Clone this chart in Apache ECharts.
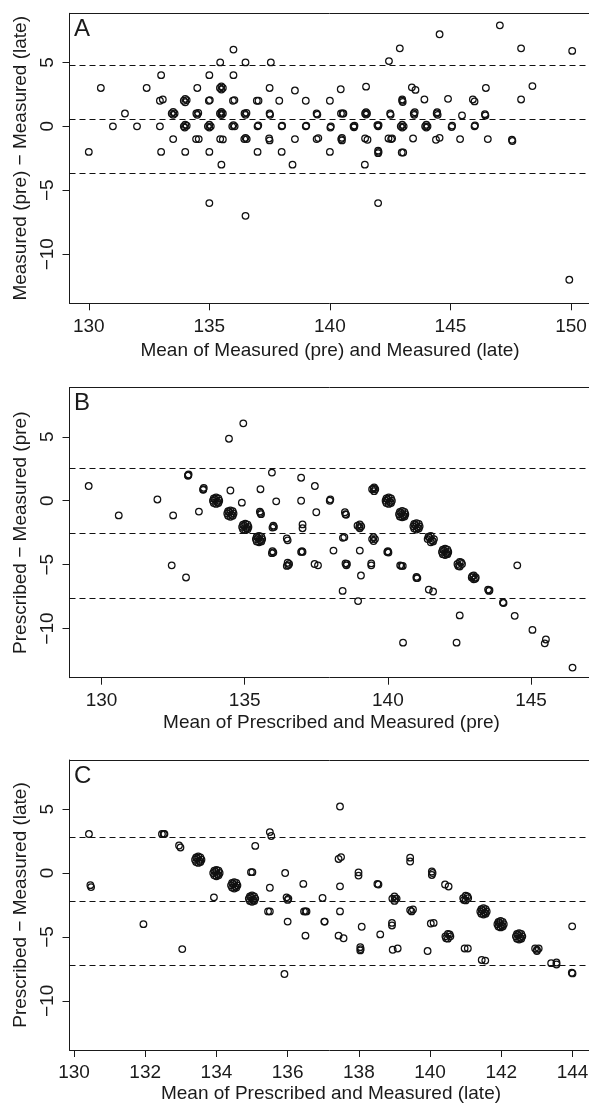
<!DOCTYPE html>
<html>
<head>
<meta charset="utf-8">
<script src="https://cdn.jsdelivr.net/npm/echarts@6/dist/echarts.min.js"></script>
<style>
html, body { margin: 0; padding: 0; background: #fff; overflow: hidden; }
#chart { width: 589px; height: 1105px; }
</style>
</head>
<body>
<div id="chart"></div>
<script>
// Panel A: mean of measured (pre) and measured (late) vs difference
var pointsA = [
  [130,-2],[130.5,3],[131,0],[131.5,1],[132,0],[132.4,3],[133,4],
  [132.95,2],[133.07,2.1],[132.95,0],[133,-2],[133.5,-1],[134,-2],
  [133.44,1],[133.56,1],[133.5,1.12],[133.5,0.9],
  [133.94,2],[134.06,2.05],[134,2.15],[134,1.88],
  [133.94,0],[134.06,0.05],[134,0.13],[133.98,-0.1],
  [134.46,1],[134.54,1.05],[134.5,0.9],
  [134.5,3],[134.45,-1],[134.56,-1],
  [135,4],[134.98,2],[135.02,2.05],
  [134.94,0],[135.06,0],[135,0.12],[135,-0.1],
  [135,-2],[135,-6],[135.45,5],
  [135.44,3],[135.56,3],[135.5,3.13],[135.5,2.88],
  [135.44,1],[135.56,1],[135.5,1.13],[135.5,0.88],[135.5,1],
  [135.45,-1],[135.56,-1.02],
  [135.5,-3],[136,6],[136,4],
  [135.98,2],[136.04,2.05],
  [135.95,0],[136.05,0],[136,0.1],
  [136.5,5],
  [136.46,1],[136.54,1.05],[136.5,0.9],
  [136.45,-1],[136.55,-1],[136.5,-0.9],
  [136.5,-7],
  [136.97,2],[137.04,2],
  [137,0],[137.03,0.08],
  [137,-2],[137.5,3],[137.55,5],
  [137.5,1],[137.52,0.9],
  [137.48,-0.95],[137.5,-1.1],
  [137.9,2],[138,0],[138.02,0.05],
  [138,-2],[138.45,-3],[138.55,2.8],[138.55,-1],[139,2],
  [139,0],[139.02,0.06],
  [139.45,1],[139.48,0.92],
  [139.45,-1],[139.52,-0.92],
  [140,2],[140.02,-0.1],[140.04,0],
  [140,-2],[140.45,2.9],
  [140.46,1],[140.53,1],[140.56,1],
  [140.47,-1],[140.5,-0.9],[140.5,-1.1],
  [140.98,0],[141.02,0.05],[141,-0.08],
  [141.45,-3],[141.5,3.1],
  [141.46,1],[141.54,1],[141.5,1.1],[141.5,0.92],
  [141.46,-0.95],[141.56,-1.05],
  [141.97,0.1],[142,0],[142.02,0.1],
  [142,-1.9],[142,-2.1],[142.02,-2],
  [142,-6],[142.45,5.1],
  [142.5,1],[142.52,0.9],
  [142.43,-0.95],[142.54,-1],[142.58,-0.95],
  [142.9,6.1],
  [143,2],[143,2.1],[143.02,1.9],
  [142.94,0],[143.06,0],[143,0.12],[143,-0.1],
  [142.98,-2.05],[143.04,-2.05],
  [143.4,3.05],[143.55,2.85],[143.45,-0.95],
  [143.48,1],[143.52,1.1],[143.5,0.9],
  [143.92,2.1],
  [143.95,0],[144.05,0],[144,0.12],[144,-0.1],
  [144.43,1],[144.45,1.1],[144.47,0.9],
  [144.4,-1.05],[144.55,-0.9],[144.55,7.2],
  [144.9,2.15],[145.05,-0.05],[145.07,0.05],
  [145.4,-1],[145.48,0.85],
  [145.93,2.1],[146,1.95],
  [146,0],[146.02,0.08],
  [146.43,0.95],[146.45,0.85],
  [146.47,3],[146.55,-1],[147.05,7.9],
  [147.55,-1.05],[147.57,-1.15],
  [147.93,6.1],[147.93,2.1],[148.4,3.15],[150.05,5.9],[149.93,-12]
];
var limitsA = [4.8, 0.58, -3.65];

// Panel B: mean of prescribed and measured (pre) vs difference
var pointsB = [
  [129.55,1.15],[130.6,-1.15],[131.95,0.1],[132.5,-1.15],[132.45,-5.05],[132.95,-6],
  [133.02,2],[133.04,2.05],[133.02,1.95],
  [133.4,-0.85],
  [133.55,0.9],[133.57,1],[133.55,0.85],
  [134.45,4.85],[134.95,6.05],
  [133.89,0],[134.11,0],[134,0.25],[134,-0.25],[133.92,0.18],[134.08,-0.18],[134.08,0.18],[133.92,-0.18],[133.96,0.1],[134.04,-0.1],
  [134.39,-1],[134.61,-1],[134.5,-0.75],[134.5,-1.25],[134.42,-0.82],[134.58,-1.18],[134.58,-0.82],[134.42,-1.18],[134.46,-0.9],[134.54,-1.1],
  [134.5,0.8],[134.9,-0.15],
  [134.91,-2.05],[135.13,-2.05],[135.02,-1.8],[135.02,-2.3],[134.94,-1.87],[135.1,-2.23],[135.1,-1.87],[134.94,-2.23],[134.98,-1.95],[135.06,-2.15],
  [135.39,-3],[135.61,-3],[135.5,-2.75],[135.5,-3.25],[135.42,-2.82],[135.58,-3.18],[135.58,-2.82],[135.42,-3.18],[135.46,-2.9],[135.54,-3.1],
  [135.53,-0.85],[135.55,-0.95],[135.57,-1.05],
  [135.55,0.9],[135.95,2.2],
  [135.97,-2.1],[136.02,-2.05],[136,-1.95],
  [135.95,-4.1],[136,-4.05],[135.97,-3.95],
  [136.1,-0.05],
  [136.47,-2.95],[136.5,-3.1],
  [136.47,-5.1],[136.52,-5.05],[136.5,-4.85],[136.55,-4.95],
  [136.97,1.8],[136.97,0],[137.02,-1.85],[137.02,-2.15],
  [136.97,-4],[137.02,-4],[137,-3.95],
  [137.45,1.15],[137.5,-0.9],[137.44,-4.95],[137.56,-5.05],
  [137.97,0],[137.99,0.1],
  [138.5,-0.9],[138.52,-1.05],[138.54,-1.1],
  [138.43,-2.9],[138.48,-2.85],
  [138.1,-3.9],
  [138.52,-4.9],[138.55,-5.05],[138.57,-4.95],
  [138.42,-7.05],[138.96,-7.85],
  [138.94,-1.95],[139.07,-2],[139.02,-1.85],[139.02,-2.15],[139,-2.05],
  [139.02,-3.9],[139.06,-5.85],
  [139.42,-4.9],[139.42,-5.05],
  [139.45,-3],[139.55,-3],[139.5,-2.85],[139.5,-3.15],
  [139.45,0.9],[139.56,0.9],[139.52,1.05],[139.52,0.75],[139.5,0.95],
  [139.92,0],[140.14,0],[140.03,0.25],[140.03,-0.25],[139.95,0.18],[140.11,-0.18],[140.11,0.18],[139.95,-0.18],[139.99,0.1],[140.07,-0.1],
  [139.98,-4],[140.02,-4.05],[140,-3.95],
  [140.39,-1.05],[140.61,-1.05],[140.5,-0.8],[140.5,-1.3],[140.42,-0.87],[140.58,-1.23],[140.58,-0.87],[140.42,-1.23],[140.46,-0.95],[140.54,-1.15],
  [140.43,-5.05],[140.47,-5.1],[140.52,-5.1],
  [140.53,-11.1],
  [140.89,-2],[141.11,-2],[141,-1.75],[141,-2.25],[140.92,-1.82],[141.08,-2.18],[141.08,-1.82],[140.92,-2.18],[140.96,-1.9],[141.04,-2.1],
  [141,-5.95],[141.03,-6.05],[141,-6.05],
  [141.39,-3],[141.61,-3],[141.5,-2.75],[141.5,-3.25],[141.42,-2.82],[141.58,-3.18],[141.46,-2.9],[141.54,-3.1],
  [141.43,-6.95],[141.58,-7.1],
  [141.89,-4],[142.11,-4],[142,-3.75],[142,-4.25],[141.92,-3.82],[142.08,-4.18],[142.08,-3.82],[141.92,-4.18],[141.96,-3.9],[142.04,-4.1],
  [142.43,-4.95],[142.59,-4.95],[142.51,-4.78],[142.51,-5.14],[142.46,-5.1],[142.56,-4.82],
  [142.51,-8.97],[142.4,-11.1],
  [142.93,-6],[143.07,-6],[143,-5.85],[143,-6.15],[142.95,-5.9],[143.05,-6.1],
  [143.5,-6.95],[143.53,-7.05],[143.55,-7],
  [144.02,-7.95],[144.04,-8],
  [144.52,-5.05],[144.43,-9],[145.05,-10.1],
  [145.48,-11.15],[145.52,-10.85],[146.45,-13.05]
];
var limitsB = [2.52, -2.55, -7.62];

// Panel C: mean of prescribed and measured (late) vs difference
var pointsC = [
  [130.42,3.05],[130.46,-0.95],[130.48,-1.1],[131.95,-4],
  [132.47,3.05],[132.52,3.05],[132.54,3.05],
  [132.95,2.15],[132.99,2],
  [133.04,-5.95],
  [133.4,1.04],[133.58,1.04],[133.49,1.29],[133.49,0.79],[133.43,1.22],[133.55,0.86],[133.55,1.22],[133.43,0.86],[133.46,1.14],[133.52,0.94],
  [133.91,0],[134.09,0],[134,0.25],[134,-0.25],[133.94,0.18],[134.06,-0.18],[134.06,0.18],[133.94,-0.18],[133.97,0.1],[134.03,-0.1],
  [133.93,-1.9],
  [134.41,-0.96],[134.59,-0.96],[134.5,-0.71],[134.5,-1.21],[134.44,-0.78],[134.56,-1.14],[134.56,-0.78],[134.44,-1.14],[134.47,-0.86],[134.53,-1.06],
  [134.97,0.07],[135.01,0.07],
  [134.91,-2],[135.09,-2],[135,-1.75],[135,-2.25],[134.94,-1.82],[135.06,-2.18],[135.06,-1.82],[134.94,-2.18],[134.97,-1.9],[135.03,-2.1],
  [135.09,2.12],
  [135.5,3.2],[135.54,2.9],
  [135.5,-1.15],
  [135.45,-3],[135.5,-3],
  [135.91,-7.9],[135.93,0],
  [135.97,-1.9],[136.02,-2],[136,-2.1],
  [136,-3.8],
  [136.44,-0.85],
  [136.46,-3],[136.5,-3],[136.53,-3],
  [136.5,-4.9],
  [136.98,-1.95],
  [137.03,-3.8],[137.04,-3.8],
  [137.47,5.2],
  [137.43,1.1],[137.5,1.25],
  [137.47,-1.04],[137.47,-3],
  [137.43,-4.9],[137.57,-5.1],
  [137.99,0.05],[137.99,-0.2],
  [138.08,-4.2],
  [138.04,-5.8],[138.05,-5.95],[138.04,-6.05],
  [138.52,-0.85],[138.55,-0.9],
  [138.6,-4.8],
  [138.93,-4.1],[138.93,-3.9],
  [138.94,-2],[139.06,-2],[139,-1.82],[139,-2.18],[139.02,-2],
  [138.95,-6],[139.09,-5.9],
  [139.44,1.2],[139.44,0.9],
  [139.44,-2.9],[139.52,-2.85],[139.48,-3],
  [139.93,-6.1],
  [140.05,0.12],[140.05,-0.15],[140.07,0],
  [140.02,-3.95],[140.1,-3.9],
  [140.42,-0.9],[140.52,-1.05],
  [140.43,-4.95],[140.57,-4.95],[140.5,-4.77],[140.5,-5.13],[140.45,-5.1],[140.55,-4.8],
  [140.97,-5.9],[141.06,-5.9],
  [140.93,-1.96],[141.07,-1.96],[141,-1.78],[141,-2.14],[140.95,-2.1],[141.05,-1.82],
  [141.41,-3],[141.59,-3],[141.5,-2.75],[141.5,-3.25],[141.44,-2.82],[141.56,-3.18],[141.56,-2.82],[141.44,-3.18],[141.47,-2.9],[141.53,-3.1],
  [141.45,-6.8],[141.55,-6.85],
  [141.89,-4],[142.07,-4],[141.98,-3.75],[141.98,-4.25],[141.92,-3.82],[142.04,-4.18],[142.04,-3.82],[141.92,-4.18],[141.95,-3.9],[142.01,-4.1],
  [142.41,-4.95],[142.59,-4.95],[142.5,-4.7],[142.5,-5.2],[142.44,-4.77],[142.56,-5.13],[142.56,-4.77],[142.44,-5.13],[142.47,-4.85],[142.53,-5.05],
  [142.95,-5.9],[143,-6],[143.05,-5.9],[143,-6.1],
  [143.4,-7.05],[143.55,-7],[143.55,-7.15],
  [143.98,-7.8],[144,-7.85],
  [143.99,-4.17]
];
var limitsC = [2.81, -2.19, -7.21];

var xTicksA = [130, 135, 140, 145, 150];
var xTicksB = [130, 135, 140, 145];
var xTicksC = [130, 132, 134, 136, 138, 140, 142, 144];
var yTicks = [-10, -5, 0, 5];

var letters = ['A', 'B', 'C'];
var xTitles = [
  'Mean of Measured (pre) and Measured (late)',
  'Mean of Prescribed and Measured (pre)',
  'Mean of Prescribed and Measured (late)'
];
var yTitles = [
  'Measured (pre) \u2212 Measured (late)',
  'Prescribed \u2212 Measured (pre)',
  'Prescribed \u2212 Measured (late)'
];

var FONT = "'Liberation Sans', Arial, Helvetica, sans-serif";
var INK = '#1a1a1a';

// the plot boxes run past the right edge of the page, so no right border shows
var panels = [
  { points: pointsA, limits: limitsA, xTicks: xTicksA, top: 13.3, xMin: 129.2, xMax: 152.427, width: 560, titleX: 330, titleGap: 38 },
  { points: pointsB, limits: limitsB, xTicks: xTicksB, top: 387.7, xMin: 128.88, xMax: 148.44, width: 560, titleX: 331.5, titleGap: 36 },
  { points: pointsC, limits: limitsC, xTicks: xTicksC, top: 760, xMin: 129.874, xMax: 145.6, width: 560, titleX: 331, titleGap: 34 }
];

function minus(v) {
  return String(v).replace('-', '\u2212');
}

var lineStyle = { color: INK, width: 1 };
var grids = [], xAxes = [], yAxes = [], series = [], titles = [];
panels.forEach(function (p, i) {
  grids.push({
    left: 69.5, top: p.top, width: p.width, height: 290,
    outerBoundsMode: 'none', containLabel: false, show: false
  });
  // bottom axis with ticks and labels
  xAxes.push({
    gridIndex: i, type: 'value', position: 'bottom', min: p.xMin, max: p.xMax,
    axisLine: { show: true, onZero: false, lineStyle: lineStyle },
    axisTick: { show: true, inside: false, length: 7, customValues: p.xTicks, lineStyle: lineStyle },
    axisLabel: { show: true, customValues: p.xTicks, margin: 13.5, fontFamily: FONT, fontSize: 19, color: INK },
    splitLine: { show: false }
  });
  // top axis: only the upper edge of the box
  xAxes.push({
    gridIndex: i, type: 'value', position: 'top', min: p.xMin, max: p.xMax,
    axisLine: { show: true, onZero: false, lineStyle: lineStyle },
    axisTick: { show: false }, axisLabel: { show: false }, splitLine: { show: false }
  });
  yAxes.push({
    gridIndex: i, type: 'value', min: -13.84, max: 8.84,
    name: yTitles[i], nameLocation: 'middle', nameGap: 34,
    nameTextStyle: { fontFamily: FONT, fontSize: 19, color: INK },
    axisLine: { show: true, onZero: false, lineStyle: lineStyle },
    axisTick: { show: true, inside: false, length: 7, customValues: yTicks, lineStyle: lineStyle },
    axisLabel: { show: true, customValues: yTicks, rotate: 90, margin: 12.5, fontFamily: FONT, fontSize: 19, color: INK,
      formatter: minus },
    splitLine: { show: false }
  });
  series.push({
    type: 'scatter',
    xAxisIndex: 2 * i, yAxisIndex: i,
    data: p.points,
    symbol: 'circle',
    symbolSize: 6.6,
    itemStyle: { color: 'rgba(0,0,0,0)', borderColor: '#111', borderWidth: 1.25, opacity: 1 },
    emphasis: { disabled: true },
    silent: true,
    markLine: {
      silent: true,
      symbol: ['none', 'none'],
      label: { show: false },
      lineStyle: { color: '#111', type: [6, 4], width: 1.1 },
      data: p.limits.map(function (v) { return { yAxis: v }; })
    }
  });
  // panel letter and x-axis title (centred on the whole plot box)
  titles.push({
    text: letters[i], left: 74, top: p.top + 4, padding: 0,
    textStyle: { fontFamily: FONT, fontSize: 24, fontWeight: 'normal', color: INK }
  });
  titles.push({
    text: xTitles[i], left: p.titleX, textAlign: 'center', top: p.top + 290 + p.titleGap, padding: 0,
    textStyle: { fontFamily: FONT, fontSize: 19, fontWeight: 'normal', color: INK }
  });
});

var chart = echarts.init(document.getElementById('chart'), null, { renderer: 'canvas' });
chart.setOption({
  animation: false,
  backgroundColor: '#fff',
  title: titles,
  grid: grids,
  xAxis: xAxes,
  yAxis: yAxes,
  series: series
});
</script>
</body>
</html>
